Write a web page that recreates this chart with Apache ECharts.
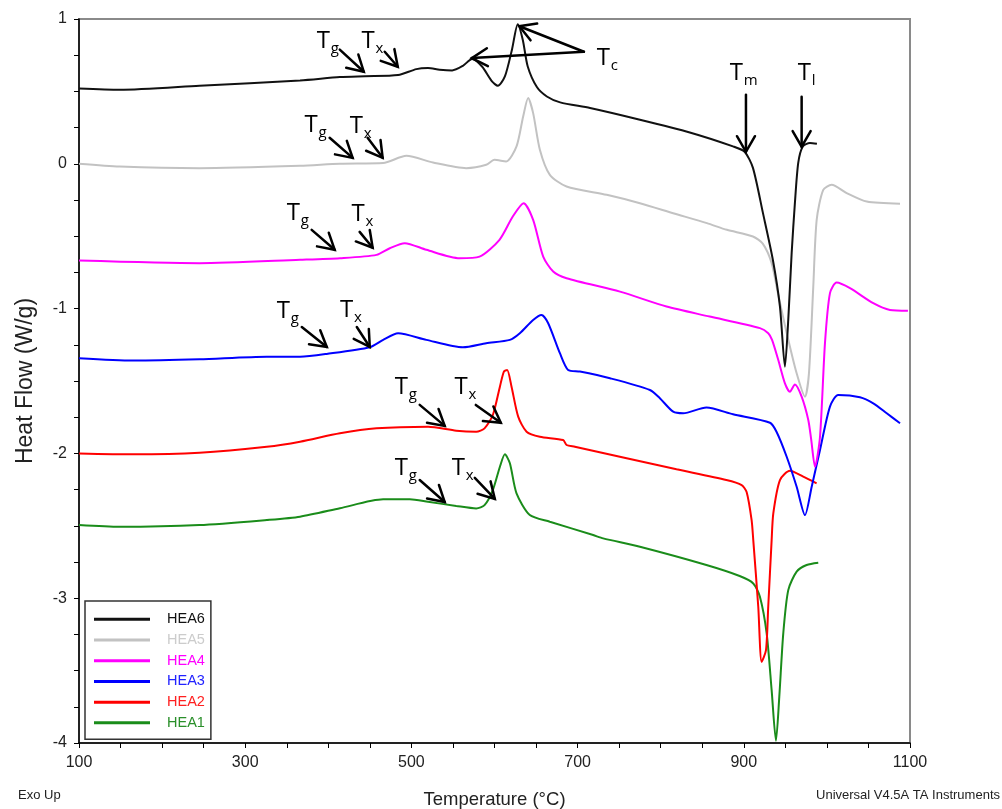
<!DOCTYPE html>
<html>
<head>
<meta charset="utf-8">
<script src="https://cdn.jsdelivr.net/npm/echarts@6/dist/echarts.min.js"></script>
<style>
  html, body { margin: 0; padding: 0; background: #ffffff; }
  #chart { width: 1002px; height: 809px; }
</style>
</head>
<body>
<div id="chart"></div>
<script>
// DSC heating traces, [temperature °C, heat flow W/g]
const seriesNames = ['HEA6', 'HEA5', 'HEA4', 'HEA3', 'HEA2', 'HEA1'];
const seriesColors = ['#111111', '#c2c2c2', '#ff00ff', '#0000ff', '#ff0000', '#1a8c1a'];
const legendTextColors = ['#111111', '#cccccc', '#ff00ff', '#2222ff', '#ff2020', '#2a8f2a'];

const hea6 = [[100,0.52],[149,0.511],[245,0.539],[366,0.576],[414,0.599],[444,0.605],[484,0.613],[506,0.654],[520,0.661],[534,0.650],[549,0.645],[562,0.677],[573,0.724],[585,0.672],[597,0.569],[604,0.539],[612.5,0.603],[621,0.788],[628,0.964],[634,0.857],[640,0.672],[651,0.530],[663,0.465],[679,0.424],[715,0.385],[775,0.304],[835,0.216],[887,0.120],[901,0.083],[911,-0.028],[923,-0.339],[935,-0.664],[943.5,-0.986],[949.5,-1.401],[953.5,-1.078],[957.6,-0.615],[961.5,-0.270],[965.5,0.007],[971,0.120],[979.6,0.143],[988,0.138]];

const hea5 = [[100,0],[149,-0.019],[245,-0.030],[366,-0.014],[414,0],[466,0.005],[494,0.055],[526,0.009],[566,-0.030],[590,-0.007],[600,0.028],[614,0.016],[626.5,0.120],[634.5,0.327],[640.5,0.454],[646.5,0.350],[654.6,0.097],[666.6,-0.076],[686.7,-0.157],[735,-0.214],[775,-0.272],[815,-0.341],[855.6,-0.410],[879.7,-0.456],[911,-0.502],[923,-0.553],[933.5,-0.686],[941,-0.892],[951.6,-1.168],[963.6,-1.447],[973.6,-1.608],[978.4,-1.447],[983.6,-0.848],[987.7,-0.387],[995.6,-0.180],[1005.7,-0.145],[1023.8,-0.202],[1048,-0.261],[1088,-0.276]];

const hea4 = [[100,-0.668],[245,-0.686],[366,-0.663],[414,-0.652],[458,-0.629],[474,-0.583],[492,-0.548],[518,-0.594],[558,-0.652],[582,-0.641],[606,-0.525],[622,-0.364],[635,-0.272],[646.5,-0.387],[658.6,-0.641],[670.6,-0.744],[686.7,-0.790],[751,-0.883],[807,-0.986],[859,-1.055],[919.4,-1.135],[929.4,-1.170],[934,-1.216],[941.5,-1.355],[949.5,-1.516],[955.5,-1.574],[961.5,-1.524],[969.6,-1.608],[977.6,-1.769],[981,-1.900],[985.7,-2.092],[991.7,-1.885],[997.7,-1.237],[1003.7,-0.893],[1011.7,-0.820],[1027.8,-0.859],[1055.8,-0.963],[1075.9,-1.009],[1097.5,-1.014]];

const hea3 = [[100,-1.343],[165,-1.359],[245,-1.350],[326,-1.332],[366,-1.332],[398,-1.313],[450,-1.267],[466,-1.216],[484,-1.170],[518,-1.216],[562,-1.267],[590,-1.239],[618.5,-1.216],[630.5,-1.170],[646.5,-1.078],[656.6,-1.044],[664.6,-1.101],[678.7,-1.308],[688.6,-1.424],[702.8,-1.435],[739,-1.481],[787,-1.562],[799,-1.619],[815,-1.712],[827,-1.723],[855,-1.683],[887,-1.730],[931.5,-1.788],[939.5,-1.852],[951.6,-2.023],[963.6,-2.230],[973.6,-2.426],[981.7,-2.230],[991.7,-1.976],[1003.7,-1.677],[1013.7,-1.596],[1039.8,-1.612],[1055.8,-1.654],[1072,-1.723],[1088,-1.792]];

const hea2 = [[100,-2.0],[165,-2.006],[245,-1.995],[326,-1.954],[366,-1.919],[414,-1.861],[458,-1.827],[520,-1.816],[554,-1.843],[578,-1.850],[588,-1.827],[598,-1.735],[606.5,-1.539],[611.3,-1.435],[615.2,-1.424],[620.5,-1.539],[628.5,-1.746],[638.6,-1.850],[654.6,-1.885],[682.6,-1.908],[686.7,-1.942],[696.7,-1.954],[759,-2.034],[819,-2.110],[879,-2.184],[897.4,-2.219],[903.4,-2.267],[909.4,-2.461],[911.4,-2.599],[917.4,-3.059],[921.5,-3.440],[926.7,-3.359],[929.4,-3.059],[933.5,-2.599],[935.5,-2.414],[943.5,-2.184],[955.5,-2.120],[971.5,-2.161],[987.6,-2.207]];

const hea1 = [[100,-2.495],[149,-2.507],[245,-2.495],[326,-2.460],[366,-2.437],[414,-2.379],[466,-2.317],[498,-2.317],[520,-2.334],[554,-2.363],[578,-2.380],[588,-2.357],[598,-2.253],[606.5,-2.092],[612.5,-2.006],[618.5,-2.068],[626.5,-2.276],[642.5,-2.426],[666.6,-2.472],[718.7,-2.564],[730.8,-2.587],[775,-2.645],[855,-2.771],[895,-2.847],[911.4,-2.898],[919.4,-2.990],[927.5,-3.243],[933.5,-3.635],[938.7,-3.985],[942.7,-3.681],[947.5,-3.243],[953.5,-2.944],[963.6,-2.817],[975.6,-2.771],[989.6,-2.755]];

const seriesData = [hea6, hea5, hea4, hea3, hea2, hea1];

const xTickLabels = [100, 300, 500, 700, 900, 1100];
const yTickLabels = [1, 0, -1, -2, -3, -4];

// transition labels: [letter, subscript, temperature, heat flow]
const markerLabels = [
  ['T', 'g', 386, 0.871], ['T', 'x', 440, 0.871],
  ['T', 'c', 723, 0.753],
  ['T', 'm', 883, 0.650], ['T', 'l', 965, 0.650],
  ['T', 'g', 371.5, 0.290], ['T', 'x', 425.7, 0.283],
  ['T', 'g', 350, -0.318], ['T', 'x', 428, -0.325],
  ['T', 'g', 338, -0.995], ['T', 'x', 414, -0.988],
  ['T', 'g', 480, -1.520], ['T', 'x', 552, -1.520],
  ['T', 'g', 480, -2.080], ['T', 'x', 548.6, -2.080]
];

// pointer arrows: [from temperature, from heat flow, to temperature, to heat flow]
const markerArrows = [
  [413.8, 0.788, 442.7, 0.636], [467.9, 0.774, 483.6, 0.670],
  [707.6, 0.774, 629.9, 0.950], [707.6, 0.774, 572.7, 0.730],
  [902.6, 0.477, 902.6, 0.083], [969.6, 0.463, 969.6, 0.118],
  [401.6, 0.180, 429.3, 0.041], [447.3, 0.180, 465.4, 0.041],
  [380, -0.456, 407.7, -0.594], [437.7, -0.470, 453.4, -0.580],
  [368.1, -1.127, 398.2, -1.265], [434.3, -1.127, 449.9, -1.265],
  [510, -1.665, 540.1, -1.810], [577.5, -1.665, 607.6, -1.789],
  [510, -2.184, 540.1, -2.336], [576.3, -2.169, 600.4, -2.314]
];

const axisFont = '"Liberation Sans", Arial, sans-serif';
const noteFont = '"Open Sans", "Noto Sans", sans-serif';

function renderArrow(params, api) {
  const p0 = api.coord([api.value(0), api.value(1)]);
  const p1 = api.coord([api.value(2), api.value(3)]);
  const ang = Math.atan2(p1[1] - p0[1], p1[0] - p0[0]);
  const len = 18, spread = Math.PI / 6;
  const h1 = [p1[0] - len * Math.cos(ang - spread), p1[1] - len * Math.sin(ang - spread)];
  const h2 = [p1[0] - len * Math.cos(ang + spread), p1[1] - len * Math.sin(ang + spread)];
  const stroke = { stroke: '#000', lineWidth: 2.5, fill: null, lineCap: 'round', lineJoin: 'miter' };
  return {
    type: 'group',
    children: [
      { type: 'line', shape: { x1: p0[0], y1: p0[1], x2: p1[0], y2: p1[1] }, style: stroke },
      { type: 'polyline', shape: { points: [h1, p1, h2] }, style: stroke }
    ]
  };
}

function renderMarkerLabel(params, api) {
  const item = markerLabels[params.dataIndex];
  const p = api.coord([api.value(0), api.value(1)]);
  return {
    type: 'group',
    children: [
      { type: 'text', x: p[0], y: p[1] + 3,
        style: { text: item[0], fontFamily: noteFont, fontSize: 24, fill: '#000', align: 'left', verticalAlign: 'middle' } },
      { type: 'text', x: p[0] + 14, y: p[1] + 11,
        style: { text: item[1], fontFamily: noteFont, fontSize: 15, fill: '#000', align: 'left', verticalAlign: 'middle' } }
    ]
  };
}

const chart = echarts.init(document.getElementById('chart'), null, { renderer: 'canvas' });

const lineSeries = seriesNames.map((name, i) => ({
  name: name,
  type: 'line',
  data: seriesData[i],
  showSymbol: false,
  smooth: 0.25,
  clip: false,
  lineStyle: { color: seriesColors[i], width: 2 },
  itemStyle: { color: seriesColors[i] },
  z: 3 + (seriesNames.length - i)
}));

chart.setOption({
  animation: false,
  backgroundColor: '#ffffff',
  grid: {
    left: 79, right: 92, top: 19, bottom: 66,
    outerBoundsMode: 'none', containLabel: false,
    show: true, borderColor: '#8a8a8a', borderWidth: 2
  },
  legend: {
    data: seriesNames.map((n, i) => ({ name: n, textStyle: { color: legendTextColors[i] } })),
    orient: 'vertical',
    left: 85, top: 601,
    itemWidth: 56, itemHeight: 3, itemGap: 4,
    icon: 'rect',
    selectedMode: false,
    borderColor: '#333333', borderWidth: 1.5, borderRadius: 0,
    padding: [10, 6, 8, 9],
    textStyle: { fontFamily: axisFont, fontSize: 14.5, lineHeight: 16.7, padding: [0, 0, 0, 12] }
  },
  xAxis: {
    type: 'value', min: 100, max: 1100, interval: 50,
    name: 'Temperature (°C)', nameLocation: 'middle', nameGap: 47,
    nameTextStyle: { fontFamily: axisFont, fontSize: 18.5, color: '#222' },
    axisLine: { onZero: false, lineStyle: { color: '#000', width: 1.5 } },
    axisTick: { length: 5, lineStyle: { color: '#000', width: 1 } },
    splitLine: { show: false },
    axisLabel: {
      formatter: v => (xTickLabels.indexOf(v) >= 0 ? String(v) : ''),
      margin: 12, fontFamily: axisFont, fontSize: 16, color: '#222'
    }
  },
  yAxis: {
    type: 'value', min: -4, max: 1, interval: 0.25,
    name: 'Heat Flow (W/g)', nameLocation: 'middle', nameGap: 42, nameRotate: 90,
    nameTextStyle: { fontFamily: axisFont, fontSize: 23, color: '#222' },
    axisLine: { onZero: false, lineStyle: { color: '#000', width: 1.5 } },
    axisTick: { length: 5, lineStyle: { color: '#000', width: 1 } },
    splitLine: { show: false },
    axisLabel: {
      formatter: v => (yTickLabels.indexOf(v) >= 0 ? String(v) : ''),
      margin: 12, fontFamily: axisFont, fontSize: 16, color: '#222'
    }
  },
  graphic: [
    { type: 'text', left: 18, top: 789, style: { text: 'Exo Up', fontFamily: axisFont, fontSize: 13, fill: '#222' } },
    { type: 'text', right: 2, top: 789, style: { text: 'Universal V4.5A TA Instruments', fontFamily: axisFont, fontSize: 13, fill: '#222' } }
  ],
  series: lineSeries.concat([
    {
      type: 'custom', name: 'arrows', coordinateSystem: 'cartesian2d',
      renderItem: renderArrow, data: markerArrows, encode: { x: [0, 2], y: [1, 3] },
      silent: true, clip: false, z: 20
    },
    {
      type: 'custom', name: 'labels', coordinateSystem: 'cartesian2d',
      renderItem: renderMarkerLabel, data: markerLabels.map(m => [m[2], m[3]]), encode: { x: 0, y: 1 },
      silent: true, clip: false, z: 21
    }
  ])
});
</script>
</body>
</html>
